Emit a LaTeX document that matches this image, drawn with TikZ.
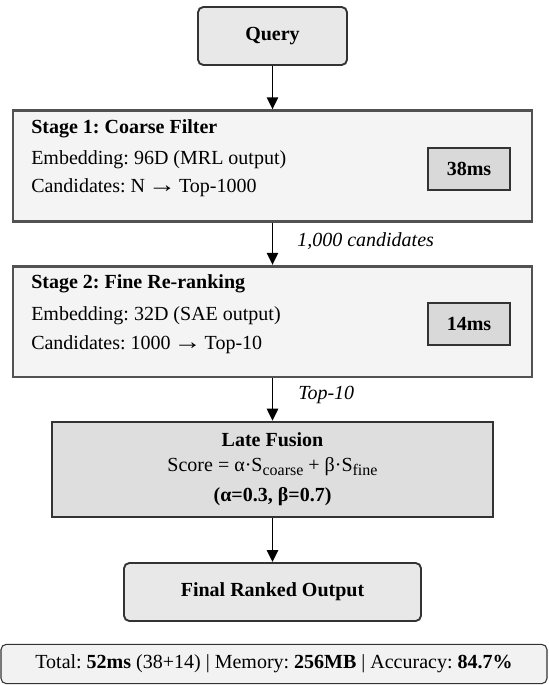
\documentclass[tikz,border=0pt]{standalone}
\usepackage{fontspec}
\setmainfont{LiberationSerif}[Extension=.ttf, UprightFont=*-Regular, BoldFont=*-Bold, ItalicFont=*-Italic, BoldItalicFont=*-BoldItalic]
\frenchspacing
\usetikzlibrary{arrows.meta}
\newcommand{\myarrow}{\hspace{-1.5pt}\scalebox{1.4}[1.15]{→}\hspace{-1.5pt}}
\definecolor{bord}{HTML}{333333}
\definecolor{stagefill}{HTML}{F4F4F4}
\definecolor{termfill}{HTML}{E8E8E8}
\definecolor{msfill}{HTML}{D9D9D9}
\definecolor{fusefill}{HTML}{DEDEDE}
\definecolor{footfill}{HTML}{F2F2F2}
\tikzset{
  every node/.style={font=\fontsize{15}{18}\selectfont, inner sep=0pt, text=black},
  termbox/.style={draw=bord, line width=1.4pt, fill=termfill, rounded corners=4pt, minimum width=#1},
  stagebox/.style={draw=bord!85!white, line width=2pt, fill=stagefill, minimum width=389.25pt, minimum height=83pt},
  msbox/.style={draw=bord, line width=1.1pt, fill=msfill, minimum width=61.5pt, minimum height=31.5pt, font=\fontsize{15}{18}\selectfont\bfseries},
  fusebox/.style={draw=bord, line width=2pt, fill=fusefill, minimum width=330.75pt, minimum height=71.25pt},
  footbox/.style={draw=bord, line width=0.8pt, fill=footfill, rounded corners=4pt, minimum width=409.5pt, minimum height=29.5pt},
  arr/.style={draw=black, line width=1.3pt, -{Triangle[length=9pt,width=8.5pt]}},
  lbl/.style={anchor=west, font=\fontsize{15}{18}\selectfont\itshape},
  line/.style={anchor=west},
}
\begin{document}
\begin{tikzpicture}[x=0.75pt,y=-0.75pt]
\useasboundingbox (0,0) rectangle (549,685);
% boxes
\node[termbox=111.75pt, minimum height=43.5pt] (query) at (272.5,36) {\bfseries Query};
\node[stagebox] (s1) at (272.5,166) {};
\node[stagebox] (s2) at (272.5,321.5) {};
\node[fusebox] (fuse) at (272.5,469.5) {};
\node[termbox=222.75pt, minimum height=43.5pt] (final) at (272.5,592) {\bfseries Final Ranked Output};
\node[footbox] (foot) at (274,664) {Total: \textbf{52ms} (38+14) | Memory: \textbf{256MB} | Accuracy: \textbf{84.7\%}};
% stage 1 text
\node[line] (s1t) at (31,129) {\bfseries Stage 1: Coarse Filter};
\node[line] (s1e) at (31,160) {Embedding: 96D (MRL output)};
\node[line] (s1c) at (31,188) {Candidates: N \myarrow{} Top-1000};
\node[msbox] (ms1) at (469,169) {38ms};
% stage 2 text
\node[line] (s2t) at (31,284) {\bfseries Stage 2: Fine Re-ranking};
\node[line] (s2e) at (31,316) {Embedding: 32D (SAE output)};
\node[line] (s2c) at (31,345) {Candidates: 1000 \myarrow{} Top-10};
\node[msbox] (ms2) at (469,324) {14ms};
% fusion text
\node (ft) at (272.5,440) {\bfseries Late Fusion};
\node (fs) at (272.5,467) {Score = α·S\raisebox{-0.35ex}{\fontsize{12}{14}\selectfont coarse} + β·S\raisebox{-0.35ex}{\fontsize{12}{14}\selectfont fine}};
\node (fp) at (272.5,497) {\bfseries (α=0.3, β=0.7)};
% connectors
\draw[arr] (query) -- (s1);
\draw[arr] (s1) -- (s2);
\draw[arr] (s2) -- (fuse);
\draw[arr] (fuse) -- (final);
\node[lbl] (l1) at (297,241) {1,000 candidates};
\node[lbl] (l2) at (298,395) {Top-10};
\end{tikzpicture}
\end{document}
